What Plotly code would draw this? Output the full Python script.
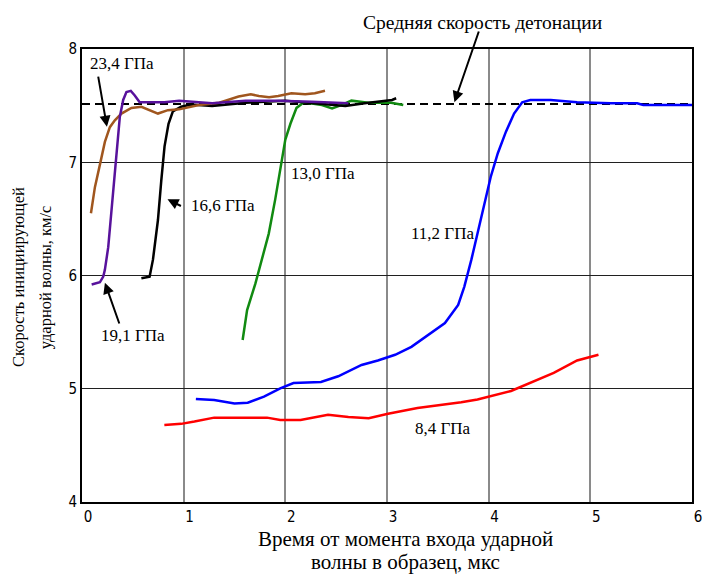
import plotly.graph_objects as go

# Initiating shock-wave velocity vs. time after the shock enters the sample
# (time in microseconds, velocity in km/s), one trace per input pressure.

t_234 = [0.088, 0.127, 0.179, 0.225, 0.274, 0.323, 0.388, 0.486, 0.584, 0.682, 0.747,
         0.845, 0.956, 1.15, 1.35, 1.54, 1.66, 1.74, 1.84, 1.93, 2.06, 2.195, 2.29, 2.39]
v_234 = [6.55, 6.78, 6.99, 7.18, 7.31, 7.37, 7.43, 7.48, 7.49, 7.45, 7.43,
         7.46, 7.467, 7.505, 7.526, 7.58, 7.60, 7.585, 7.573, 7.585, 7.61, 7.60, 7.61, 7.632]

t_191 = [0.095, 0.176, 0.209, 0.225, 0.258, 0.307, 0.34, 0.372, 0.405, 0.437, 0.48,
         0.519, 0.567, 0.65, 0.81, 0.956, 1.28, 1.61, 1.93, 2.26, 2.62]
v_191 = [5.92, 5.94, 5.99, 6.05, 6.25, 6.755, 7.14, 7.40, 7.55, 7.62, 7.63,
         7.59, 7.53, 7.53, 7.53, 7.544, 7.52, 7.544, 7.544, 7.535, 7.52]

t_166 = [0.584, 0.665, 0.698, 0.747, 0.78, 0.812, 0.851, 0.894, 0.975, 1.073, 1.28,
         1.61, 2.0, 2.26, 2.59, 2.78, 3.01, 3.05, 3.09]
v_166 = [5.975, 5.99, 6.14, 6.49, 6.84, 7.14, 7.34, 7.45, 7.49, 7.51, 7.497,
         7.526, 7.544, 7.526, 7.497, 7.52, 7.544, 7.55, 7.565]

t_130 = [1.58, 1.624, 1.706, 1.771, 1.837, 1.90, 1.95, 2.0, 2.05, 2.11, 2.16, 2.18,
         2.36, 2.46, 2.55, 2.65, 2.815, 3.04, 3.16]
v_130 = [5.43, 5.695, 5.93, 6.14, 6.37, 6.67, 6.93, 7.20, 7.34, 7.48, 7.514, 7.53,
         7.505, 7.476, 7.505, 7.544, 7.526, 7.526, 7.505]

t_112 = [1.12, 1.30, 1.50, 1.63, 1.79, 1.95, 2.08, 2.35, 2.52, 2.75, 2.91, 3.08, 3.24,
         3.40, 3.57, 3.70, 3.76, 3.83, 3.89, 3.96, 4.02, 4.09, 4.17, 4.25, 4.33, 4.41,
         4.61, 4.87, 5.20, 5.46, 5.52, 6.0]
v_112 = [4.91, 4.90, 4.87, 4.877, 4.93, 5.004, 5.05, 5.06, 5.11, 5.21, 5.25, 5.30, 5.37,
         5.475, 5.58, 5.74, 5.90, 6.14, 6.37, 6.64, 6.87, 7.08, 7.27, 7.43, 7.53, 7.55,
         7.55, 7.53, 7.52, 7.52, 7.505, 7.505]

t_84 = [0.81, 0.975, 1.106, 1.30, 1.82, 1.95, 2.15, 2.35, 2.42, 2.62, 2.82, 3.01, 3.30,
        3.73, 3.89, 4.22, 4.41, 4.64, 4.87, 5.08]
v_84 = [4.68, 4.69, 4.71, 4.745, 4.745, 4.725, 4.725, 4.76, 4.77, 4.75, 4.74, 4.78, 4.83,
        4.88, 4.905, 4.98, 5.05, 5.14, 5.25, 5.30]

# Mean detonation velocity
t_det = [0.0, 6.0]
v_det = [7.514, 7.514]

x_ticks = [0, 1, 2, 3, 4, 5, 6]
x_dark_grid = [4, 5]
y_ticks = [4, 5, 6, 7, 8]

series = [
    (t_84, v_84, "#FF0000", "8,4 ГПа"),
    (t_112, v_112, "#0000FF", "11,2 ГПа"),
    (t_130, v_130, "#118A11", "13,0 ГПа"),
    (t_166, v_166, "#000000", "16,6 ГПа"),
    (t_234, v_234, "#A0561E", "23,4 ГПа"),
    (t_191, v_191, "#58129C", "19,1 ГПа"),
]

SERIF = "Liberation Serif, Times New Roman, serif"
NARROW = "Liberation Sans Narrow, Arial Narrow, DejaVu Sans Condensed, sans-serif"

fig = go.Figure()
fig.add_trace(go.Scatter(x=t_det, y=v_det, mode="lines",
                         line=dict(color="#000000", width=2, dash="8px,5px"),
                         showlegend=False, hoverinfo="skip"))
for tx, vy, col, name in series:
    fig.add_trace(go.Scatter(x=tx, y=vy, mode="lines", name=name,
                             line=dict(color=col, width=2.5), showlegend=False))

# darker vertical gridlines at the later time marks: above the grid, under the curves
for gx in x_dark_grid:
    fig.add_shape(type="line", xref="x", yref="paper", x0=gx, x1=gx, y0=0, y1=1,
                  line=dict(color="#1A1A1A", width=1.2), layer="between")

ann = []


def label(x, y, text, size=17, xanchor="center", ref="x"):
    ann.append(dict(x=x, y=y, xref="x" if ref == "x" else "paper",
                    yref="y" if ref == "x" else "paper", text=text, showarrow=False,
                    xanchor=xanchor, yanchor="middle",
                    font=dict(family=SERIF, size=size, color="#000000")))


def arrow(x0, y0, x1, y1):
    ann.append(dict(x=x1, y=y1, ax=x0, ay=y0, xref="x", yref="y", axref="x", ayref="y",
                    text="", showarrow=True, arrowhead=2, arrowsize=1.1, arrowwidth=2,
                    arrowcolor="#000000", standoff=0, startstandoff=0))


label(0.657, 1.0596, "Средняя скорость детонации", size=19.5, ref="paper")
arrow(3.908, 8.168, 3.663, 7.53)
label(0.393, 7.876, "23,4 ГПа")
arrow(0.157, 7.77, 0.245, 7.314)
label(1.054, 6.614, "16,6 ГПа", xanchor="left")
arrow(0.988, 6.607, 0.841, 6.673)
label(0.503, 5.47, "19,1 ГПа")
arrow(0.372, 5.563, 0.225, 5.936)
label(2.375, 6.905, "13,0 ГПа")
label(3.549, 6.375, "11,2 ГПа")
label(3.554, 4.653, "8,4 ГПа")

# axis titles, one annotation per line
label(0.531, -0.0806, "Время от момента входа ударной", size=21, ref="paper")
label(0.531, -0.1325, "волны в образец, мкс", size=21, ref="paper")
for xp, txt in [(-0.103, "Скорость инициирующей"), (-0.060, "ударной волны, км/с")]:
    ann.append(dict(x=xp, y=0.497, xref="paper", yref="paper", showarrow=False,
                    text=txt, textangle=-90, xanchor="center", yanchor="middle",
                    font=dict(family=SERIF, size=16.5, color="#000000")))

fig.update_layout(
    width=714, height=574,
    margin=dict(l=82, r=19, t=49, b=72, pad=0),
    paper_bgcolor="#FFFFFF", plot_bgcolor="#FFFFFF",
    annotations=ann,
    showlegend=False,
)
fig.update_xaxes(range=[0, 6], tickvals=x_ticks, ticktext=[str(v) for v in x_ticks],
                 showgrid=True, gridcolor="#8A8A8A", gridwidth=1.5,
                 showline=True, linecolor="#000000", linewidth=2, mirror=True,
                 ticks="", zeroline=False, ticklabelshift=6,
                 tickfont=dict(family=NARROW, size=15, color="#000000"))
fig.update_yaxes(range=[4, 8], tickvals=y_ticks, ticktext=[str(v) for v in y_ticks],
                 showgrid=True, gridcolor="#202020", gridwidth=1,
                 showline=True, linecolor="#000000", linewidth=2, mirror=True,
                 ticks="", zeroline=False,
                 tickfont=dict(family=NARROW, size=15, color="#000000"))

fig.write_html("out.html")
